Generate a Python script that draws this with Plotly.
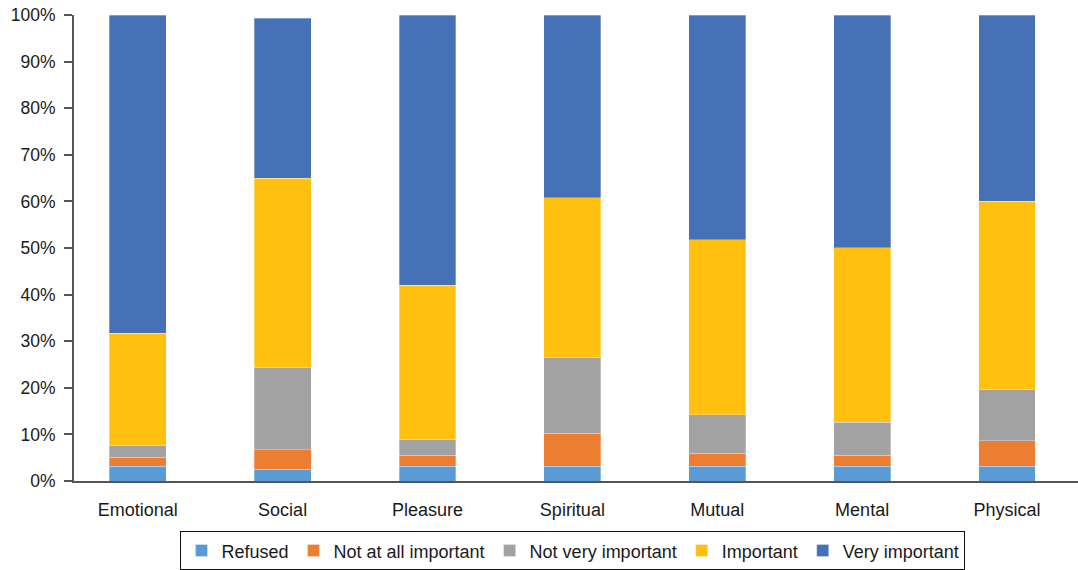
import plotly.graph_objects as go

categories = ["Emotional", "Social", "Pleasure", "Spiritual", "Mutual", "Mental", "Physical"]
refused = [3.2, 2.5, 3.2, 3.2, 3.2, 3.2, 3.2]
not_at_all = [1.9, 4.2, 2.3, 7.1, 2.8, 2.3, 5.4]
not_very = [2.5, 17.6, 3.3, 16.1, 8.2, 7.1, 11.1]
important = [24.1, 40.7, 33.2, 34.4, 37.6, 37.5, 40.3]
very_important = [68.3, 34.3, 58.0, 39.2, 48.2, 49.9, 40.0]
y_ticks = [0, 10, 20, 30, 40, 50, 60, 70, 80, 90, 100]
y_tick_labels = [f"{v}%" for v in y_ticks]

series = [
    ("Refused", refused, "#5B9BD5"),
    ("Not at all important", not_at_all, "#ED7D31"),
    ("Not very important", not_very, "#A2A2A2"),
    ("Important", important, "#FFC010"),
    ("Very important", very_important, "#4771B7"),
]

fig = go.Figure()
for name, vals, color in series:
    fig.add_trace(go.Bar(
        x=categories, y=vals, name=name,
        marker=dict(color=color, line=dict(color="rgba(255,255,255,0.5)", width=0.6)),
        width=0.393,
    ))

fig.update_layout(
    barmode="stack",
    width=1078, height=570,
    margin=dict(l=74, r=0, t=15, b=89, autoexpand=False),
    plot_bgcolor="white", paper_bgcolor="white",
    font=dict(family="Liberation Sans, Arial, sans-serif", size=18, color="#1a1a1a"),
    showlegend=True,
    legend=dict(
        orientation="h", x=0.497, xanchor="center", y=-0.108, yanchor="top",
        bordercolor="#111", borderwidth=1, font=dict(size=18, color="#1a1a1a"),
        traceorder="normal", itemwidth=30,
    ),
)
fig.update_xaxes(
    type="category", range=[-0.44, 6.49], automargin=False,
    showline=True, linecolor="#555", linewidth=2,
    ticks="outside", ticklen=11, tickcolor="rgba(0,0,0,0)",
    showgrid=False, tickfont=dict(size=18, color="#1a1a1a"),
)
fig.update_yaxes(
    range=[0, 100], tickvals=y_ticks, ticktext=y_tick_labels, automargin=False,
    showline=True, linecolor="#555", linewidth=2,
    ticks="outside", ticklen=8, tickcolor="#555", tickwidth=2,
    showgrid=False, zeroline=False, tickfont=dict(size=17.5, color="#1a1a1a"),
    ticklabelstandoff=5,
)
fig.write_html("out.html")
